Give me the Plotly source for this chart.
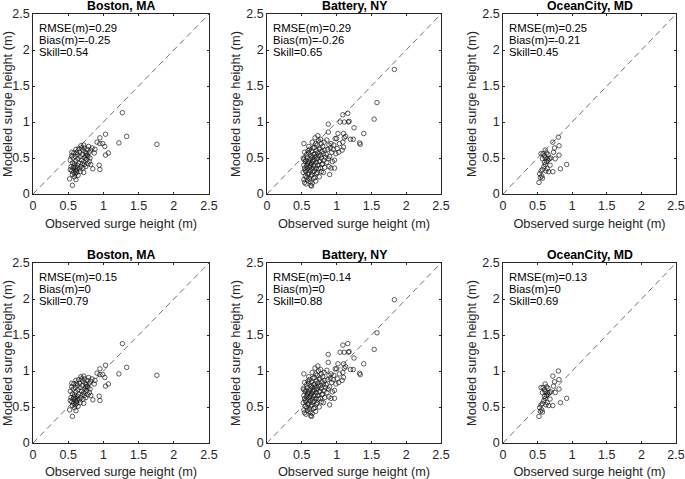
import plotly.graph_objects as go

# ---- data ----
STATIONS = ["Boston, MA", "Battery, NY", "OceanCity, MD"]
TICK_VALUES = [0, 0.5, 1, 1.5, 2, 2.5]
TICK_LABELS = ["0", "0.5", "1", "1.5", "2", "2.5"]
AXIS_RANGE = [0, 2.5]

STATS_RAW = [
    ["RMSE(m)=0.29", "Bias(m)=-0.25", "Skill=0.54"],
    ["RMSE(m)=0.29", "Bias(m)=-0.26", "Skill=0.65"],
    ["RMSE(m)=0.25", "Bias(m)=-0.21", "Skill=0.45"],
]
STATS_CORR = [
    ["RMSE(m)=0.15", "Bias(m)=0", "Skill=0.79"],
    ["RMSE(m)=0.14", "Bias(m)=0", "Skill=0.88"],
    ["RMSE(m)=0.13", "Bias(m)=0", "Skill=0.69"],
]

boston_obs = [
    1.27, 1.33, 1.76, 1.22, 1.03, 0.95, 0.91, 0.95, 0.99, 1.02,
    1.07, 1.03, 0.94, 0.95, 0.85, 0.87, 0.84, 0.80, 0.78, 0.52,
    0.56, 0.79, 0.68, 0.72, 0.61, 0.58, 0.55, 0.53, 0.56, 0.54,
    0.57, 0.55, 0.58, 0.56, 0.59, 0.61, 0.60, 0.62, 0.60, 0.63,
    0.59, 0.61, 0.64, 0.60, 0.63, 0.66, 0.65, 0.64, 0.67, 0.66,
    0.68, 0.65, 0.69, 0.67, 0.70, 0.71, 0.72, 0.71, 0.73, 0.72,
    0.74, 0.75, 0.76, 0.74, 0.77, 0.78, 0.76, 0.77, 0.80, 0.82,
    0.81, 0.69, 0.62, 0.57, 0.53, 0.58, 0.63, 0.70, 0.75, 0.82,
    0.88, 0.73, 0.55, 0.62, 0.60,
]
boston_mod = [
    1.13, 0.80, 0.69, 0.71, 0.83, 0.78, 0.72, 0.70, 0.70, 0.66,
    0.57, 0.54, 0.40, 0.34, 0.35, 0.57, 0.64, 0.45, 0.42, 0.21,
    0.12, 0.66, 0.67, 0.68, 0.62, 0.57, 0.53, 0.47, 0.43, 0.38,
    0.36, 0.32, 0.30, 0.27, 0.24, 0.20, 0.28, 0.33, 0.37, 0.40,
    0.42, 0.46, 0.49, 0.52, 0.55, 0.58, 0.63, 0.26, 0.31, 0.35,
    0.38, 0.43, 0.47, 0.52, 0.55, 0.61, 0.30, 0.36, 0.41, 0.45,
    0.50, 0.53, 0.56, 0.58, 0.54, 0.52, 0.48, 0.62, 0.58, 0.61,
    0.50, 0.64, 0.58, 0.50, 0.34, 0.39, 0.36, 0.42, 0.38, 0.41,
    0.62, 0.64, 0.58, 0.30, 0.33,
]
boston_mod_corr = [
    1.38, 1.05, 0.94, 0.96, 1.08, 1.03, 0.97, 0.95, 0.95, 0.91,
    0.82, 0.79, 0.65, 0.59, 0.60, 0.82, 0.89, 0.70, 0.67, 0.46,
    0.37, 0.91, 0.92, 0.93, 0.87, 0.82, 0.78, 0.72, 0.68, 0.63,
    0.61, 0.57, 0.55, 0.52, 0.49, 0.45, 0.53, 0.58, 0.62, 0.65,
    0.67, 0.71, 0.74, 0.77, 0.80, 0.83, 0.88, 0.51, 0.56, 0.60,
    0.63, 0.68, 0.72, 0.77, 0.80, 0.86, 0.55, 0.61, 0.66, 0.70,
    0.75, 0.78, 0.81, 0.83, 0.79, 0.77, 0.73, 0.87, 0.83, 0.86,
    0.75, 0.89, 0.83, 0.75, 0.59, 0.64, 0.61, 0.67, 0.63, 0.66,
    0.87, 0.89, 0.83, 0.55, 0.58,
]

battery_obs = [
    0.53, 0.54, 0.52, 0.55, 0.53, 0.54, 0.52, 0.55, 0.53, 0.54, 0.55, 0.53,
    0.57, 0.58, 0.56, 0.59, 0.57, 0.58, 0.56, 0.59, 0.57, 0.58, 0.56, 0.59, 0.58,
    0.61, 0.60, 0.63, 0.62, 0.60, 0.63, 0.61, 0.62, 0.60, 0.63, 0.61, 0.62, 0.63, 0.60, 0.62,
    0.65, 0.66, 0.64, 0.67, 0.65, 0.66, 0.64, 0.67, 0.65, 0.66, 0.64, 0.67, 0.65, 0.64, 0.66,
    0.69, 0.70, 0.68, 0.71, 0.69, 0.70, 0.68, 0.71, 0.69, 0.70, 0.68, 0.71, 0.69, 0.70,
    0.73, 0.74, 0.72, 0.75, 0.73, 0.74, 0.72, 0.75, 0.73, 0.74, 0.72, 0.75,
    0.77, 0.78, 0.76, 0.79, 0.77, 0.78, 0.76, 0.79, 0.77, 0.78,
    0.82, 0.80, 0.83, 0.81, 0.84, 0.82, 0.80, 0.83, 0.81,
    0.88, 0.88, 0.86, 0.89, 0.87, 0.85, 0.88, 0.86, 0.89, 0.90,
    0.92, 0.91, 0.93, 0.90, 0.94, 0.92,
    0.98, 0.96, 0.95, 0.99, 0.97, 0.97,
    1.05, 1.02, 1.00, 1.04, 1.01, 1.03,
    1.09, 1.11, 1.10, 1.11, 1.09, 1.10, 1.08,
    1.16, 1.17, 1.18, 1.25, 1.39, 1.33, 1.34, 1.24, 1.20, 1.54, 1.58, 1.83, 1.13,
]
battery_mod = [
    0.70, 0.58, 0.50, 0.45, 0.40, 0.36, 0.30, 0.25, 0.20, 0.16, 0.33, 0.48,
    0.55, 0.51, 0.47, 0.43, 0.39, 0.35, 0.31, 0.27, 0.23, 0.19, 0.14, 0.60, 0.42,
    0.62, 0.57, 0.53, 0.49, 0.45, 0.41, 0.37, 0.33, 0.29, 0.25, 0.21, 0.17, 0.12, 0.66, 0.39,
    0.72, 0.64, 0.59, 0.55, 0.51, 0.47, 0.43, 0.39, 0.35, 0.31, 0.27, 0.22, 0.15, 0.11, 0.45,
    0.78, 0.70, 0.65, 0.60, 0.56, 0.52, 0.48, 0.44, 0.40, 0.36, 0.32, 0.28, 0.23, 0.18,
    0.81, 0.74, 0.68, 0.62, 0.57, 0.53, 0.49, 0.45, 0.40, 0.35, 0.30, 0.24,
    0.76, 0.70, 0.64, 0.59, 0.54, 0.50, 0.46, 0.41, 0.36, 0.31,
    0.72, 0.66, 0.61, 0.56, 0.51, 0.47, 0.42, 0.37, 0.30,
    0.97, 0.86, 0.75, 0.68, 0.62, 0.55, 0.49, 0.44, 0.38, 0.27,
    0.70, 0.64, 0.58, 0.52, 0.45, 0.36,
    0.77, 0.68, 0.62, 0.56, 0.47, 0.36,
    1.00, 0.84, 0.77, 0.70, 0.63, 0.58,
    1.10, 1.00, 0.84, 0.78, 0.72, 0.65, 0.61,
    1.12, 1.00, 1.01, 0.92, 0.84, 0.71, 0.69, 0.76, 0.76, 1.04, 1.27, 1.73, 0.80,
]
battery_mod_corr = [
    0.96, 0.84, 0.76, 0.71, 0.66, 0.62, 0.56, 0.51, 0.46, 0.42, 0.59, 0.74,
    0.81, 0.77, 0.73, 0.69, 0.65, 0.61, 0.57, 0.53, 0.49, 0.45, 0.40, 0.86, 0.68,
    0.88, 0.83, 0.79, 0.75, 0.71, 0.67, 0.63, 0.59, 0.55, 0.51, 0.47, 0.43, 0.38, 0.92, 0.65,
    0.98, 0.90, 0.85, 0.81, 0.77, 0.73, 0.69, 0.65, 0.61, 0.57, 0.53, 0.48, 0.41, 0.37, 0.71,
    1.04, 0.96, 0.91, 0.86, 0.82, 0.78, 0.74, 0.70, 0.66, 0.62, 0.58, 0.54, 0.49, 0.44,
    1.07, 1.00, 0.94, 0.88, 0.83, 0.79, 0.75, 0.71, 0.66, 0.61, 0.56, 0.50,
    1.02, 0.96, 0.90, 0.85, 0.80, 0.76, 0.72, 0.67, 0.62, 0.57,
    0.98, 0.92, 0.87, 0.82, 0.77, 0.73, 0.68, 0.63, 0.56,
    1.23, 1.12, 1.01, 0.94, 0.88, 0.81, 0.75, 0.70, 0.64, 0.53,
    0.96, 0.90, 0.84, 0.78, 0.71, 0.62,
    1.03, 0.94, 0.88, 0.82, 0.73, 0.62,
    1.26, 1.10, 1.03, 0.96, 0.89, 0.84,
    1.36, 1.26, 1.10, 1.04, 0.98, 0.91, 0.87,
    1.38, 1.26, 1.27, 1.18, 1.10, 0.97, 0.95, 1.02, 1.02, 1.30, 1.53, 1.99, 1.06,
]

ocean_obs = [
    0.80, 0.72, 0.81, 0.745, 0.61, 0.55, 0.58, 0.65, 0.73, 0.81,
    0.755, 0.67, 0.64, 0.57, 0.61, 0.64, 0.92, 0.83, 0.72, 0.66,
    0.57, 0.55, 0.53, 0.56, 0.57, 0.52, 0.60, 0.61, 0.63, 0.65,
    0.59, 0.62, 0.54, 0.68, 0.63, 0.69, 0.60,
]
ocean_mod = [
    0.79, 0.72, 0.67, 0.64, 0.61, 0.56, 0.56, 0.55, 0.58, 0.54,
    0.49, 0.49, 0.49, 0.49, 0.41, 0.35, 0.41, 0.35, 0.31, 0.31,
    0.34, 0.32, 0.28, 0.25, 0.22, 0.16, 0.53, 0.50, 0.45, 0.47,
    0.38, 0.32, 0.23, 0.40, 0.57, 0.50, 0.44,
]
ocean_mod_corr = [
    1.00, 0.93, 0.88, 0.85, 0.82, 0.77, 0.77, 0.76, 0.79, 0.75,
    0.70, 0.70, 0.70, 0.70, 0.62, 0.56, 0.62, 0.56, 0.52, 0.52,
    0.55, 0.53, 0.49, 0.46, 0.43, 0.37, 0.74, 0.71, 0.66, 0.68,
    0.59, 0.53, 0.44, 0.61, 0.78, 0.71, 0.65,
]

OBSERVED = [boston_obs, battery_obs, ocean_obs]
MODELED = [
    [boston_mod, battery_mod, ocean_mod],
    [boston_mod_corr, battery_mod_corr, ocean_mod_corr],
]
STATS = [STATS_RAW, STATS_CORR]

# ---- layout geometry (pixels of a 685x479 page) ----
W, H = 685, 479
COL_PX = [(33, 209), (267, 441), (503, 676)]
ROW_PX = [(14, 194), (263, 443)]
FONT = "Liberation Sans, Arial, Helvetica, sans-serif"
INK = "#262626"

fig = go.Figure()
annotations = []

for r in range(2):
    for c in range(3):
        k = r * 3 + c + 1
        sfx = "" if k == 1 else str(k)
        xa, ya = f"x{sfx}", f"y{sfx}"
        x0, x1 = COL_PX[c]
        top, bot = ROW_PX[r]

        # 1:1 line
        fig.add_trace(go.Scatter(
            x=AXIS_RANGE, y=AXIS_RANGE, mode="lines",
            line=dict(color="#4d4d4d", width=0.8, dash="6px,4px"),
            xaxis=xa, yaxis=ya, hoverinfo="skip", showlegend=False,
        ))
        # scatter of surge heights
        fig.add_trace(go.Scatter(
            x=OBSERVED[c], y=MODELED[r][c], mode="markers",
            marker=dict(symbol="circle-open", size=4.5,
                        color="#1a1a1a", line=dict(width=0.7)),
            xaxis=xa, yaxis=ya, showlegend=False,
        ))

        axis_common = dict(
            range=AXIS_RANGE, tickvals=TICK_VALUES, ticktext=TICK_LABELS,
            showline=True, linecolor=INK, linewidth=0.8, mirror="ticks",
            ticks="inside", ticklen=2.5, tickcolor=INK, tickwidth=0.8,
            showgrid=False, zeroline=False, fixedrange=True,
            automargin=False,
            tickfont=dict(family=FONT, size=12.5, color=INK),
        )
        fig.layout[f"xaxis{sfx}"] = dict(
            axis_common, domain=[x0 / W, x1 / W], anchor=ya,
            title=dict(text="Observed surge height (m)", standoff=7,
                       font=dict(family=FONT, size=12.8, color=INK)),
        )
        fig.layout[f"yaxis{sfx}"] = dict(
            axis_common, domain=[1 - bot / H, 1 - top / H], anchor=xa,
            title=dict(text="Modeled surge height (m)", standoff=2,
                       font=dict(family=FONT, size=12.8, color=INK)),
        )

        # panel title
        annotations.append(dict(
            text=f"<b>{STATIONS[c]}</b>", xref="paper", yref="paper",
            x=(x0 + x1) / 2 / W, y=1 - (top - 8) / H,
            xanchor="center", yanchor="middle", showarrow=False,
            font=dict(family=FONT, size=12.3, color="#000000"),
        ))
        # statistics text
        for i, line in enumerate(STATS[r][c]):
            annotations.append(dict(
                text=line, xref=f"{xa} domain", yref=f"{ya} domain",
                x=4 / (x1 - x0), y=1 - (14 + 12 * i) / (bot - top),
                xanchor="left", yanchor="middle", showarrow=False,
                font=dict(family=FONT, size=11.3, color="#000000"),
            ))

fig.update_layout(
    width=W, height=H,
    margin=dict(l=0, r=0, t=0, b=0),
    paper_bgcolor="white", plot_bgcolor="white",
    annotations=annotations,
    showlegend=False,
)

# the page body has a default 8px margin; drop it so the figure fills the window
fig.write_html(
    "out.html",
    config=dict(displayModeBar=False),
    post_script="document.body.style.margin='0';document.body.style.overflow='hidden';",
)
